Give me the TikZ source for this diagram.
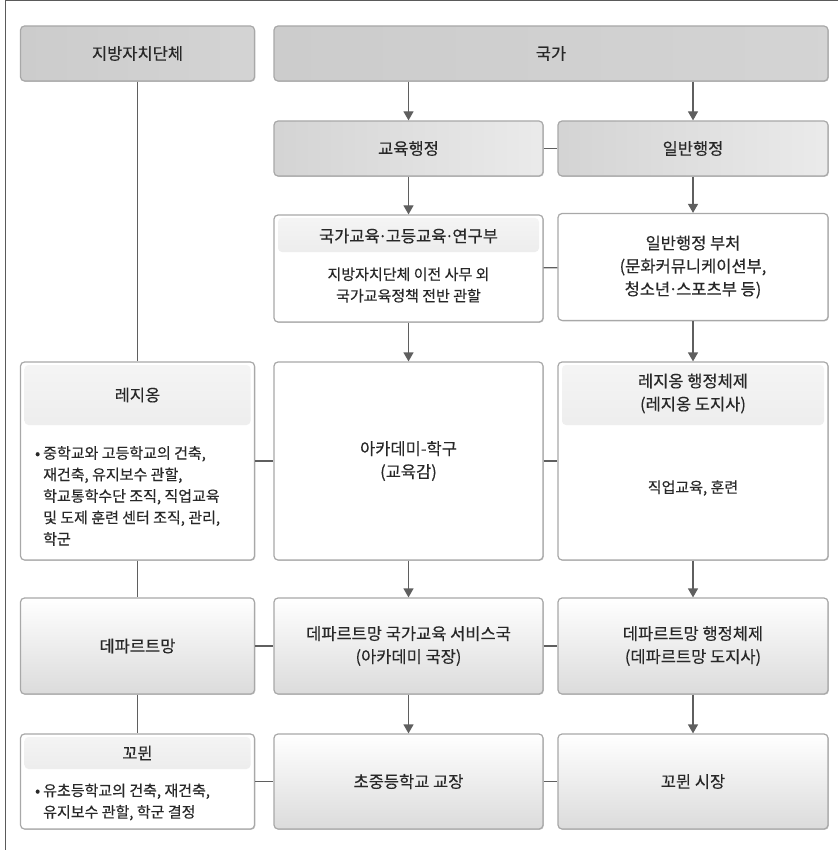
\documentclass[tikz,border=0pt]{standalone}
\usepackage{fontspec}
\setmainfont{Noto Sans CJK KR}[FakeBold=0.3]
\usepackage{tikz}
\usetikzlibrary{arrows.meta,calc,positioning,shadows}
\definecolor{orgInk}{RGB}{40,40,40}
\definecolor{orgEdge}{RGB}{168,168,168}
\definecolor{orgWire}{RGB}{95,95,95}
\definecolor{orgFrame}{RGB}{90,90,90}
\newcommand{\orgdot}{\hspace{-0.1em}·\hspace{-0.1em}}

\begin{document}
\begin{tikzpicture}[x=1pt,y=-1pt,
  box/.style={draw=orgEdge,line width=1.2pt,rounded corners=4pt,inner sep=0pt,align=center,
    font=\fontsize{16.5}{23}\selectfont,text=orgInk,
    drop shadow={shadow xshift=0.8pt,shadow yshift=-0.8pt,opacity=0.22,fill=black}},
  toprow/.style={box,left color=black!20,middle color=black!36,right color=black!17},
  midrow/.style={box,left color=black!17,right color=black!8},
  plain/.style={box,fill=white},
  lowrow/.style={box,top color=white,bottom color=black!14},
  banded/.style={box,fill=white,path picture={
    \shade[top color=black!4,bottom color=black!13]
      ([shift={(4pt,-3pt)}]path picture bounding box.north west) rectangle
      ([shift={(-4pt,-#1)}]path picture bounding box.north east);}},
  headtext/.style={font=\fontsize{16.5}{23}\selectfont,text=orgInk,align=center,inner sep=0pt},
  bodytext/.style={font=\fontsize{15}{21.5}\selectfont,text=orgInk,align=center,inner sep=0pt},
  wire/.style={draw=orgWire,line width=1.2pt},
  flow/.style={wire,-{Triangle[length=9pt,width=10pt]}}]
  \useasboundingbox (0,0) rectangle (838,850);
  \draw[orgFrame,line width=1pt] (838,1) -- (5,1) -- (5,850);

  \node[toprow,minimum width=234pt,minimum height=55pt] (local) at (137.5,53.5) {지방자치단체};
  \node[toprow,minimum width=554pt,minimum height=55pt] (state) at (551,53.5) {국가};
  \node[midrow,minimum width=269pt,minimum height=55pt] (eduadm) at (408.5,148.5) {교육행정};
  \node[midrow,minimum width=270pt,minimum height=55pt] (genadm) at (693,148.5) {일반행정};

  \node[banded=37pt,minimum width=269pt,minimum height=107pt] (ministry) at (408.5,268.5) {};
  \node[headtext] (ministryT) at (408.5,236) {국가교육\orgdot 고등교육\orgdot 연구부};
  \node[bodytext] (ministryB) at (408.5,285) {지방자치단체 이전 사무 외\\국가교육정책 전반 관할};
  \node[plain,minimum width=270pt,minimum height=107pt] (depts) at (693,267)
    {일반행정 부처\\(문화커뮤니케이션부,\\청소년\orgdot 스포츠부 등)};

  \node[banded=63pt,minimum width=234pt,minimum height=198pt] (region) at (137.5,461) {};
  \node[headtext] (regionT) at (137.5,395) {레지옹};
  \node[bodytext,align=left,anchor=west] (regionB) at (43,496)
    {\llap{•\hspace{3pt}}중학교와 고등학교의 건축,\\재건축, 유지보수 관할,\\학교통학수단 조직, 직업교육\\및 도제 훈련 센터 조직, 관리,\\학군};
  \node[plain,minimum width=269pt,minimum height=198pt] (academy) at (408.5,461) {아카데미-학구\\(교육감)};
  \node[banded=63pt,minimum width=270pt,minimum height=198pt] (regadm) at (693,461) {};
  \node[headtext] (regadmT) at (693,393.5) {레지옹 행정체제\\(레지옹 도지사)};
  \node[bodytext] (regadmB) at (693,488) {직업교육, 훈련};

  \node[lowrow,minimum width=234pt,minimum height=96pt] (dept) at (137.5,646) {데파르트망};
  \node[lowrow,minimum width=269pt,minimum height=96pt] (deptedu) at (408.5,646) {데파르트망 국가교육 서비스국\\(아카데미 국장)};
  \node[lowrow,minimum width=270pt,minimum height=96pt] (deptadm) at (693,646) {데파르트망 행정체제\\(데파르트망 도지사)};

  \node[banded=35pt,minimum width=234pt,minimum height=95pt] (commune) at (137.5,781.5) {};
  \node[headtext] (communeT) at (137.5,753) {꼬뮌};
  \node[bodytext,align=left,anchor=west] (communeB) at (43,802)
    {\llap{•\hspace{3pt}}유초등학교의 건축, 재건축,\\유지보수 관할, 학군 결정};
  \node[lowrow,minimum width=269pt,minimum height=95pt] (principal) at (408.5,781.5) {초중등학교 교장};
  \node[lowrow,minimum width=270pt,minimum height=95pt] (mayor) at (693,781.5) {꼬뮌 시장};

  \draw[flow] (state.south -| eduadm.north) -- (eduadm.north);
  \draw[flow] (state.south -| genadm.north) -- (genadm.north);
  \draw[wire] (eduadm) -- (genadm);
  \draw[flow] (eduadm) -- (ministry);
  \draw[flow] (genadm) -- (depts);
  \draw[wire] (ministry) -- (depts);
  \draw[flow] (ministry) -- (academy);
  \draw[flow] (depts) -- (regadm);
  \draw[wire] (local) -- (region);
  \draw[wire] (region) -- (academy);
  \draw[wire] (academy) -- (regadm);
  \draw[flow] (academy) -- (deptedu);
  \draw[flow] (regadm) -- (deptadm);
  \draw[wire] (region) -- (dept);
  \draw[wire] (dept) -- (deptedu);
  \draw[wire] (deptedu) -- (deptadm);
  \draw[flow] (deptedu) -- (principal);
  \draw[flow] (deptadm) -- (mayor);
  \draw[wire] (dept) -- (commune);
  \draw[wire] (commune) -- (principal);
  \draw[wire] (principal) -- (mayor);
\end{tikzpicture}
\end{document}
